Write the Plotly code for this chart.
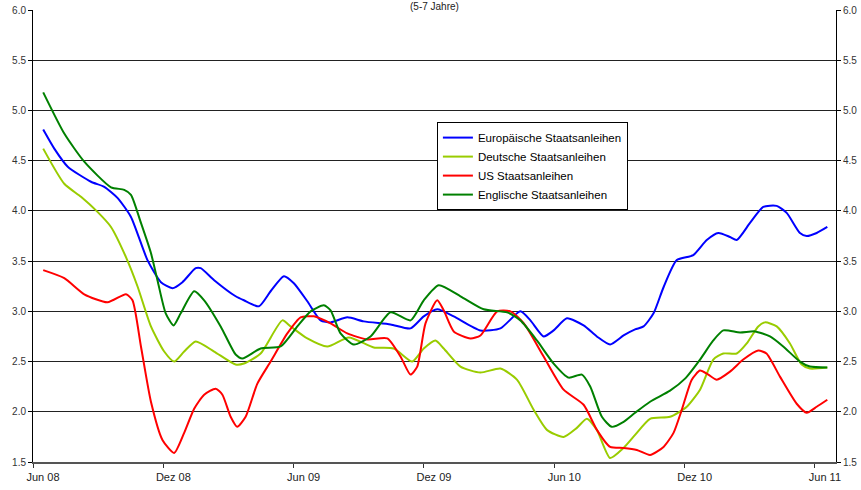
import plotly.graph_objects as go

# x = months since 1 June 2008
tick_vals = [0, 6, 12, 18, 24, 30, 36]
tick_text = ["Jun 08", "Dez 08", "Jun 09", "Dez 09", "Jun 10", "Dez 10", "Jun 11"]
y_ticks = [1.5, 2.0, 2.5, 3.0, 3.5, 4.0, 4.5, 5.0, 5.5, 6.0]

euro_x = [0.47, 0.98, 1.60, 2.67, 3.28, 3.89, 4.51, 5.27, 5.89, 6.42, 6.88, 7.49, 7.72, 8.34, 9.33, 9.71,
          10.40, 10.94, 11.55, 12.01, 12.63, 13.24, 13.70, 14.47, 15.23, 16.46, 17.38, 17.99, 18.61, 19.37,
          20.60, 21.52, 22.44, 22.90, 23.51, 23.97, 24.58, 25.35, 25.96, 26.57, 27.19, 27.72, 28.11, 28.57,
          29.03, 29.64, 30.40, 31.02, 31.55, 32.09, 32.40, 33.01, 33.62, 34.24, 34.70, 35.31, 35.62, 36.08, 36.57]
euro_y = [4.81, 4.62, 4.44, 4.29, 4.24, 4.13, 3.94, 3.51, 3.29, 3.23, 3.29, 3.43, 3.43, 3.31, 3.15, 3.11,
          3.05, 3.20, 3.35, 3.28, 3.10, 2.91, 2.89, 2.94, 2.90, 2.87, 2.83, 2.95, 3.02, 2.95,
          2.81, 2.83, 3.00, 2.91, 2.75, 2.81, 2.93, 2.86, 2.75, 2.67, 2.76, 2.82, 2.85, 2.98,
          3.24, 3.51, 3.56, 3.71, 3.78, 3.74, 3.71, 3.88, 4.04, 4.05, 3.98, 3.78, 3.75, 3.78, 3.84]

de_x = [0.47, 1.44, 2.21, 2.97, 3.59, 4.28, 4.81, 5.43, 6.04, 6.50, 6.96, 7.49, 8.34, 9.33, 9.71, 10.48,
        11.48, 11.86, 12.63, 13.55, 14.54, 15.69, 16.61, 17.46, 17.99, 18.53, 18.91, 19.68, 20.60, 21.52,
        22.28, 23.05, 23.66, 24.43, 25.04, 25.50, 25.96, 26.57, 27.19, 27.72, 28.41, 29.33, 30.10, 30.71,
        31.32, 31.78, 32.40, 32.86, 33.39, 33.70, 34.24, 34.85, 35.39, 35.77, 36.57]
de_y = [4.62, 4.27, 4.14, 3.99, 3.84, 3.54, 3.25, 2.85, 2.60, 2.50, 2.60, 2.70, 2.60, 2.47, 2.48, 2.58,
        2.91, 2.85, 2.73, 2.65, 2.74, 2.64, 2.63, 2.50, 2.63, 2.71, 2.63, 2.45, 2.39, 2.43,
        2.32, 2.02, 1.82, 1.75, 1.84, 1.93, 1.82, 1.54, 1.64, 1.77, 1.93, 1.95, 2.05, 2.22,
        2.52, 2.58, 2.58, 2.68, 2.85, 2.89, 2.85, 2.68, 2.47, 2.43, 2.44]

us_x = [0.47, 1.44, 2.36, 3.43, 4.28, 4.58, 4.97, 5.43, 5.96, 6.50, 6.96, 7.42, 7.88, 8.41, 8.72, 9.10,
        9.40, 9.79, 10.33, 10.94, 11.71, 12.32, 12.93, 13.70, 14.47, 15.39, 16.31, 16.92, 17.38, 17.69,
        18.07, 18.61, 18.91, 19.37, 20.14, 20.60, 21.37, 21.98, 22.60, 23.51, 24.43, 25.35, 25.96, 26.57,
        27.19, 27.80, 28.41, 29.03, 29.49, 29.87, 30.33, 30.71, 31.09, 31.48, 32.09, 32.70, 33.39, 33.77,
        34.39, 35.16, 35.62, 36.08, 36.57]
us_y = [3.41, 3.33, 3.17, 3.09, 3.17, 3.11, 2.65, 2.10, 1.72, 1.59, 1.79, 2.03, 2.17, 2.23, 2.17, 1.95,
        1.85, 1.95, 2.28, 2.50, 2.78, 2.94, 2.95, 2.88, 2.78, 2.72, 2.73, 2.55, 2.37, 2.45,
        2.88, 3.11, 3.01, 2.80, 2.73, 2.76, 3.00, 3.00, 2.88, 2.55, 2.22, 2.07, 1.82, 1.65,
        1.64, 1.62, 1.57, 1.65, 1.79, 2.02, 2.32, 2.41, 2.37, 2.32, 2.40, 2.52, 2.61, 2.58,
        2.35, 2.08, 1.99, 2.05, 2.12]

uk_x = [0.47, 1.44, 2.36, 3.59, 4.20, 4.51, 4.97, 5.43, 5.73, 6.11, 6.47, 6.80, 7.42, 7.88, 8.64, 9.33,
        9.64, 10.48, 11.40, 12.17, 12.78, 13.39, 13.70, 14.16, 14.77, 15.54, 16.46, 17.38, 17.99, 18.68,
        19.68, 20.75, 21.83, 22.44, 23.20, 23.97, 24.66, 25.27, 25.66, 26.19, 26.65, 27.19, 27.72, 28.41,
        29.33, 30.02, 30.71, 31.32, 31.78, 32.55, 33.24, 33.93, 34.54, 35.31, 35.77, 36.57]
uk_y = [5.18, 4.77, 4.49, 4.235, 4.21, 4.16, 3.88, 3.58, 3.31, 2.98, 2.86, 2.98, 3.20, 3.11, 2.85, 2.57,
        2.53, 2.63, 2.65, 2.85, 3.00, 3.06, 3.01, 2.78, 2.67, 2.75, 2.99, 2.91, 3.11, 3.26,
        3.15, 3.02, 2.99, 2.91, 2.71, 2.48, 2.34, 2.37, 2.25, 1.95, 1.85, 1.90, 1.99, 2.10,
        2.21, 2.33, 2.52, 2.71, 2.81, 2.79, 2.80, 2.75, 2.65, 2.50, 2.45, 2.44]

series = [
    ("Europäische Staatsanleihen", euro_x, euro_y, "#0000FF"),
    ("Deutsche Staatsanleihen", de_x, de_y, "#99CC00"),
    ("US Staatsanleihen", us_x, us_y, "#FF0000"),
    ("Englische Staatsanleihen", uk_x, uk_y, "#008000"),
]

fig = go.Figure()
for name, xs, ys, col in series:
    fig.add_trace(go.Scatter(x=xs, y=ys, name=name, mode="lines",
                             line=dict(color=col, width=2, shape="spline", smoothing=0.6)))
# invisible trace to activate the right-hand axis
fig.add_trace(go.Scatter(x=euro_x, y=euro_y, yaxis="y2", mode="lines",
                         line=dict(color="rgba(0,0,0,0)", width=0), showlegend=False, hoverinfo="skip"))

font_ax = dict(family="Liberation Sans Narrow, Arial Narrow, Liberation Sans, Arial", size=11, color="#222")
yfont = dict(family="Liberation Sans, Arial", size=10, color="#333")

fig.update_layout(
    template="none",
    width=861, height=490,
    margin=dict(l=33, r=25, t=10, b=28, pad=0),
    paper_bgcolor="white", plot_bgcolor="white",
    showlegend=True,
    legend=dict(x=0.503, y=0.752, xanchor="left", yanchor="top",
                bgcolor="white", bordercolor="black", borderwidth=1,
                font=dict(family="Liberation Sans, Arial", size=11.5, color="black"),
                tracegroupgap=0, itemwidth=30),
    xaxis=dict(range=[0, 36.97], tickvals=tick_vals, ticktext=tick_text, automargin=False,
               showgrid=False, zeroline=False, showline=True, linecolor="#555", linewidth=2,
               ticks="outside", ticklen=4, tickcolor="#333", tickfont=font_ax,
               ticklabelshift=10),
    yaxis=dict(range=[1.5, 6.0], tickvals=y_ticks, tickformat=".1f", automargin=False,
               showgrid=True, gridcolor="#222", gridwidth=1, zeroline=False,
               showline=True, linecolor="black", linewidth=1,
               ticks="outside", ticklen=4, tickcolor="black", tickfont=yfont),
    yaxis2=dict(range=[1.5, 6.0], tickvals=y_ticks, tickformat=".1f", overlaying="y", side="right",
                automargin=False, showgrid=False, zeroline=False, showline=True, linecolor="black",
                linewidth=1, ticks="outside", ticklen=4, tickcolor="black", tickfont=yfont),
    annotations=[dict(text="(5-7 Jahre)", x=0.5, y=1, xref="paper", yref="paper",
                      xanchor="center", yanchor="bottom", yshift=-3, showarrow=False, borderpad=0,
                      font=dict(family="Liberation Sans, Arial", size=10, color="#222"))],
)

fig.write_html("out.html", config={"displayModeBar": False},
               post_script="document.body.style.margin='0';document.body.style.overflow='hidden';")
